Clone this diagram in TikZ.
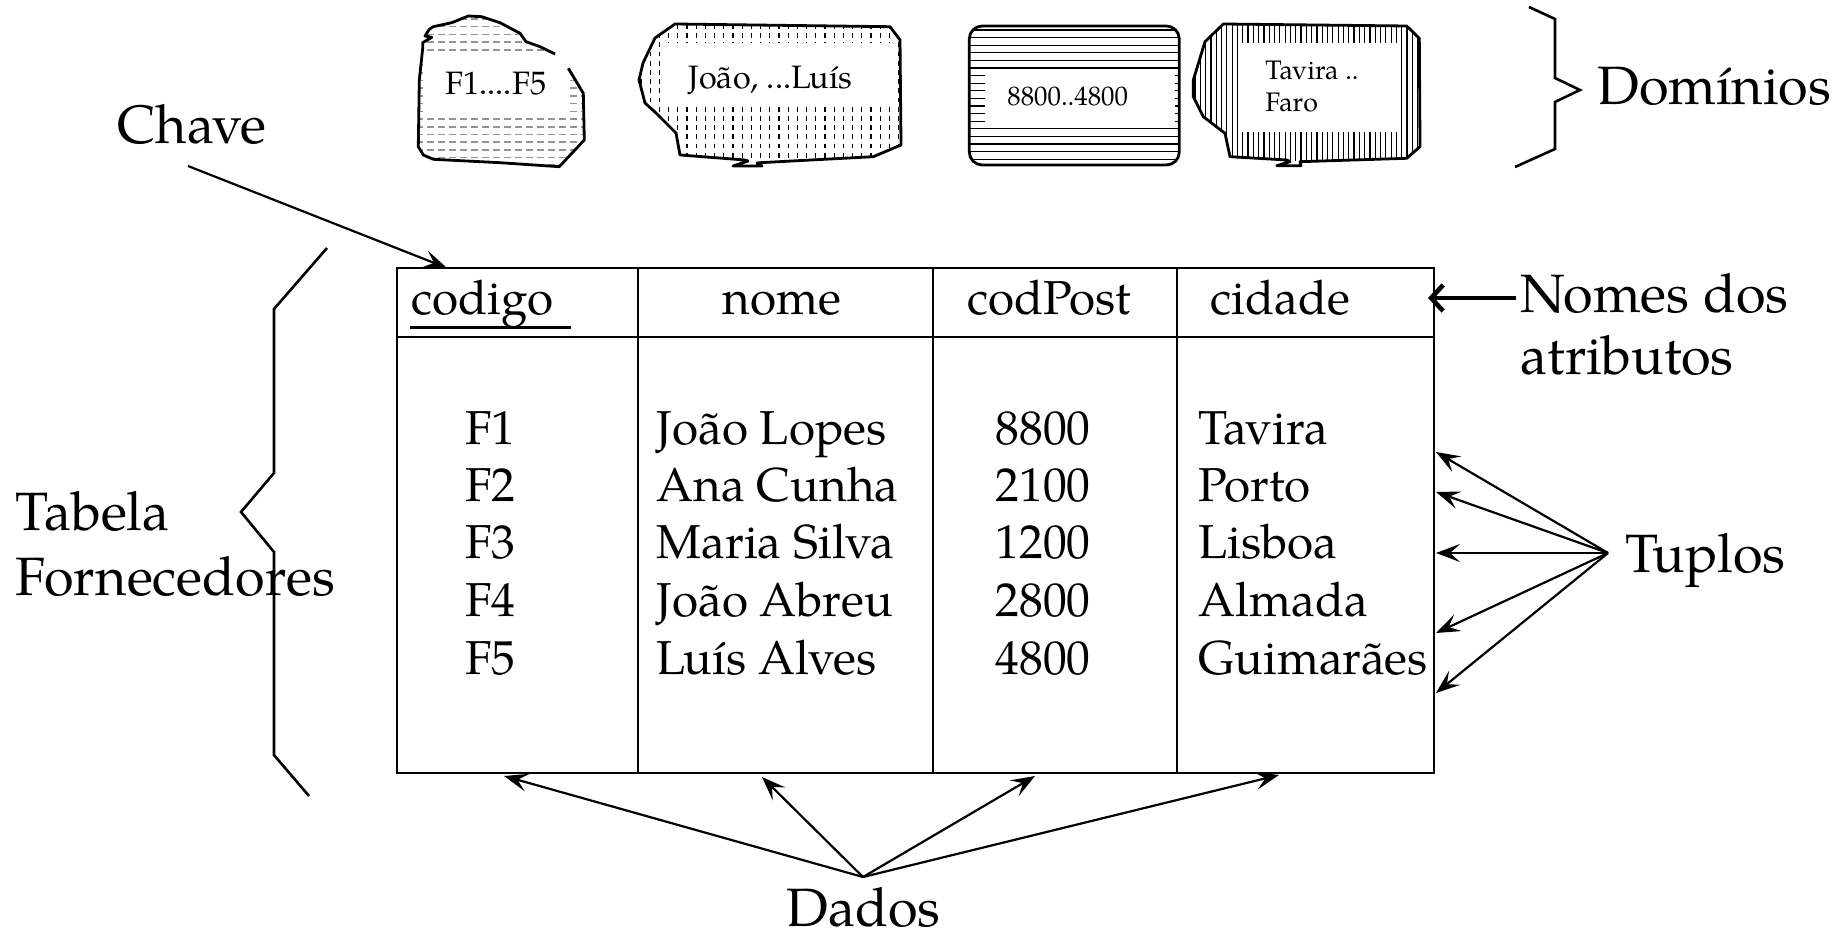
\documentclass[tikz,border=0pt]{standalone}
\usepackage{fontspec}
\setmainfont{TeX Gyre Pagella}
\usetikzlibrary{arrows.meta}
\tikzset{
  lbl/.style={inner sep=0pt, anchor=base west, font=\fontsize{27}{32}\selectfont},
  cell/.style={inner sep=0pt, anchor=base west, font=\fontsize{23.8}{28}\selectfont},
  dtxt/.style={inner sep=0pt, anchor=base west, font=\fontsize{16.2}{19}\selectfont},
  dtxts/.style={inner sep=0pt, anchor=base west, font=\fontsize{13.4}{16}\selectfont},
  gridline/.style={line width=1.4pt},
  bracel/.style={line width=1.3pt, line join=miter},
  arr/.style={line width=1.1pt, -{Stealth[length=12pt,width=9pt,inset=5pt]}},
  nomarr/.style={line width=2.3pt, -{Straight Barb[length=6pt,width=13pt,line width=2.3pt]}},
  outl/.style={line width=1.4pt, line join=round},
  hatchg/.style={black!42, line width=0.8pt, dash pattern=on 3.5pt off 2pt},
  hatchd/.style={black, line width=0.6pt, dash pattern=on 2.4pt off 2.2pt},
  hatchl/.style={black, line width=0.6pt},
}
\begin{document}
\begin{tikzpicture}[x=0.5pt,y=-0.5pt]
\useasboundingbox (0,0) rectangle (1845,941);

% ---------- Domain 1 : F1....F5 ----------
\begin{scope}
\clip (429.3,29.3) -- (433.3,26.7) -- (451.7,22.7) -- (468.3,16) -- (481.7,16.7) -- (500,22.7) -- (520,33.3) -- (526,41.7) -- (540,46.7) -- (555,54) -- (568.3,68.3) -- (583.3,93.3) -- (584.3,140) -- (559.3,166.7) -- (500,162.7) -- (433.3,159.3) -- (423.3,155) -- (418.3,146.7) -- (419.3,80) -- (422.7,48.3) -- (422.7,42.7) -- (431.7,37.3) -- (425,36) -- cycle;
\foreach \y in {19,26.7,...,172} \draw[hatchg] (405,\y) -- (595,\y);
\fill[white] (426,53) rectangle (567,116);
\end{scope}
\draw[outl] (568.3,68.3) -- (583.3,93.3) -- (584.3,140) -- (559.3,166.7) -- (500,162.7) -- (433.3,159.3) -- (423.3,155) -- (418.3,146.7) -- (419.3,80) -- (422.7,48.3) -- (422.7,42.7) -- (431.7,37.3) -- (425,36) -- (429.3,29.3) -- (433.3,26.7) -- (451.7,22.7) -- (468.3,16) -- (481.7,16.7) -- (500,22.7) -- (520,33.3) -- (526,41.7) -- (540,46.7) -- (555,54);
\node[dtxt] (d1) at (445,95) {F1....F5};

% ---------- Domain 2 : João, ...Luís ----------
\begin{scope}
\clip (675,24) -- (890,26.7) -- (900,40) -- (901,145) -- (873.3,156.7) -- (760,162.7) -- (745,160) -- (680,155) -- (676,133) -- (656,113) -- (645,103) -- (639,80) -- (643,63) -- (655,38) -- cycle;
\foreach \x in {641,650.2,...,905} \draw[hatchd] (\x,24) -- (\x,170);
\fill[white] (665,43) rectangle (898,107);
\end{scope}
\draw[outl] (675,24) -- (890,26.7) -- (900,40) -- (901,145) -- (873.3,156.7) -- (760,162.7) -- (757,163) -- (762,166) -- (733,166) -- (748,161) -- (745,160) -- (680,155) -- (676,133) -- (656,113) -- (645,103) -- (639,80) -- (643,63) -- (655,38) -- cycle;
\node[dtxt] (d2) at (688,89) {João, ...Luís};

% ---------- Domain 3 : 8800..4800 ----------
\begin{scope}
\clip[rounded corners=6.5pt] (969.3,26) rectangle (1179.3,165);
\foreach \y in {30,37.6,...,166} \draw[hatchl] (960,\y) -- (1190,\y);
\fill[white] (985,72) rectangle (1175,127);
\end{scope}
\draw[outl, rounded corners=6.5pt] (969.3,26) rectangle (1179.3,165);
\node[dtxts] (d3) at (1007,106) {8800..4800};

% ---------- Domain 4 : Tavira .. Faro ----------
\begin{scope}
\clip (1223.3,24) -- (1406.7,26) -- (1419.3,38.3) -- (1420,146.7) -- (1406.7,158.3) -- (1300,161.7) -- (1286.7,160) -- (1230,156.7) -- (1225,133.3) -- (1203.3,116.7) -- (1193.3,96.7) -- (1193.3,80) -- (1205,41.7) -- cycle;
\foreach \x in {1195,1200.3,...,1424} \draw[hatchl] (\x,20) -- (\x,170);
\fill[white] (1242,43) rectangle (1401,132);
\end{scope}
\draw[outl] (1223.3,24) -- (1406.7,26) -- (1419.3,38.3) -- (1420,146.7) -- (1406.7,158.3) -- (1300,161.7) -- (1301,165.7) -- (1276.7,165.7) -- (1290,161.7) -- (1286.7,160) -- (1230,156.7) -- (1225,133.3) -- (1203.3,116.7) -- (1193.3,96.7) -- (1193.3,80) -- (1205,41.7) -- cycle;
\node[dtxts] (d4a) at (1265,80) {Tavira ..};
\node[dtxts] (d4b) at (1265,112) {Faro};

% ---------- Domínios brace ----------
\draw[bracel] (1529,7) -- (1555,19) -- (1555,78) -- (1580,90) -- (1555,102) -- (1555,149) -- (1515,167);
\node[lbl] (dom) at (1597,105) {Domínios};

% ---------- Chave ----------
\node[lbl] (chave) at (117,144) {Chave};
\coordinate (chaveS) at (188,166);
\coordinate (chaveE) at (447,268);
\draw[arr] (chaveS) -- (chaveE);

% ---------- Table ----------
\coordinate (tl) at (397,268);
\coordinate (br) at (1434,773);
\draw[gridline] (tl) rectangle (br);
\draw[gridline] (397,337) -- (1434,337);
\foreach \x in {638,933,1177} \draw[gridline] (\x,268) -- (\x,773);

\node[cell] (h1) at (411,314) {codigo};
\draw[line width=1.5pt] (410,327) -- (571,327);
\node[cell, anchor=base] (h2) at (782,314) {nome};
\node[cell] (h3) at (967,314) {codPost};
\node[cell] (h4) at (1210,314) {cidade};

\foreach \i/\y/\a/\b/\c/\d in {1/444/F1/João Lopes/8800/Tavira,2/501/F2/Ana Cunha/2100/Porto,3/558/F3/Maria Silva/1200/Lisboa,4/616/F4/João Abreu/2800/Almada,5/674/F5/Luís Alves/4800/Guimarães}{
  \node[cell] (c\i) at (465,\y) {\a};
  \node[cell] (n\i) at (656,\y) {\b};
  \node[cell] (p\i) at (995,\y) {\c};
  \node[cell] (t\i) at (1198,\y) {\d};
}

% ---------- Nomes dos atributos ----------
\node[lbl] (nomes1) at (1520,312) {Nomes dos};
\node[lbl] (nomes2) at (1520,374) {atributos};
\coordinate (nomS) at (1516,298);
\coordinate (nomE) at (1428,298);
\draw[nomarr] (nomS) -- (nomE);

% ---------- Tuplos ----------
\node[lbl] (tuplos) at (1625,572) {Tuplos};
\coordinate (tupA) at (1608,553);
\coordinate (tu1) at (1436,452);
\coordinate (tu2) at (1436,492);
\coordinate (tu3) at (1436,553);
\coordinate (tu4) at (1436,633);
\coordinate (tu5) at (1436,693);
\foreach \k in {1,...,5} \draw[arr] (tupA) -- (tu\k);

% ---------- Dados ----------
\node[lbl] (dados) at (786,926) {Dados};
\coordinate (daA) at (863,877);
\coordinate (da1) at (504,776);
\coordinate (da2) at (762,777);
\coordinate (da3) at (1035,776);
\coordinate (da4) at (1279,775);
\foreach \k in {1,...,4} \draw[arr] (daA) -- (da\k);

% ---------- Tabela Fornecedores ----------
\draw[bracel] (327,248) -- (274,309) -- (274,473) -- (241,512) -- (274,552) -- (274,755) -- (309,796);
\node[lbl] (tab1) at (15,530) {Tabela};
\node[lbl] (tab2) at (15,595) {Fornecedores};
\end{tikzpicture}
\end{document}
